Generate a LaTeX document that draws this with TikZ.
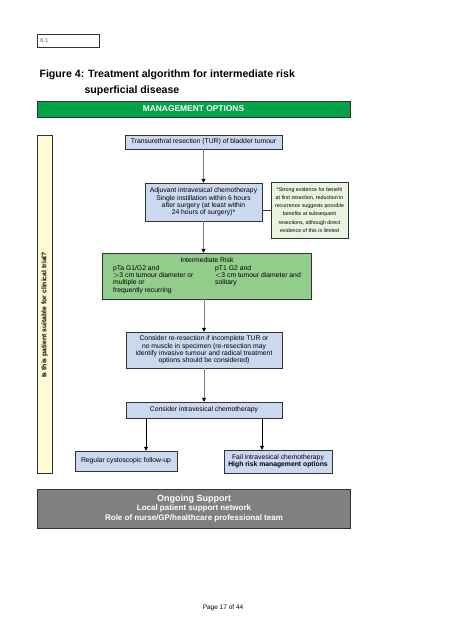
\documentclass[tikz,border=0pt]{standalone}
\usepackage{fontspec}
\setmainfont{Liberation Sans}
\usetikzlibrary{arrows.meta,positioning}

\definecolor{mgmtgreen}{RGB}{0,163,72}
\definecolor{riskgreen}{RGB}{146,205,140}
\definecolor{notegreen}{RGB}{234,243,224}
\definecolor{stepblue}{RGB}{203,217,240}
\definecolor{trialyellow}{RGB}{255,250,212}
\definecolor{supportgrey}{RGB}{128,128,128}
\definecolor{secgrey}{RGB}{110,100,150}

\begin{document}
\begin{tikzpicture}[x=1pt, y=-1pt,
    box/.style={draw=black!80, line width=0.5pt, inner sep=0pt, align=center,
        font=\fontsize{6.8}{7.4}\selectfont},
    stepbox/.style={box, fill=stepblue},
    arr/.style={draw=black!50, line width=0.7pt, -{Triangle[color=black, length=4pt, width=4pt]}},
    ]
\useasboundingbox[fill=white] (0, 0) rectangle (452, 640);

% header
\node[draw=black!80, line width=0.5pt, minimum height=13pt, inner xsep=3pt, inner ysep=0pt,
    text width=56pt, align=left, text=secgrey, font=\fontsize{6}{7}\selectfont] at (68, 40.5)(sec){6.1};
\node[anchor=west, align=left, font=\bfseries\fontsize{10.6}{16}\selectfont] at (36, 83)(title)
    {Figure 4: Treatment algorithm for intermediate risk\\\hspace{45pt}superficial disease};
\node[box, fill=mgmtgreen, minimum width=313pt, minimum height=16pt, text=white,
    font=\bfseries\fontsize{8.4}{10}\selectfont] at (193.5, 109)(mgmt){MANAGEMENT OPTIONS};

% clinical trial bar
\node[box, fill=trialyellow, rotate=90, minimum width=338pt, minimum height=15pt,
    font=\bfseries\fontsize{6.8}{7}\selectfont] at (44.5, 304)(trial)
    {Is this patient suitable for clinical trial?\hspace{22pt}};

% pathway
\node[stepbox, minimum width=157pt, minimum height=14pt] at (203.5, 142)(tur)
    {Transurethral resection (TUR) of bladder tumour};
\node[stepbox, minimum width=117pt, minimum height=38pt] at (203.5, 202)(adj)
    {Adjuvant intravesical chemotherapy\\Single instillation within 6 hours\\after surgery (at least within\\24 hours of surgery)*};
\node[box, fill=notegreen, minimum width=77pt, minimum height=56pt,
    font=\fontsize{5.3}{8.2}\selectfont] at (309.5, 210)(note)
    {*Strong evidence for benefit\\at first resection, reduction in\\recurrence suggests possible\\benefits at subsequent\\resections, although direct\\evidence of this is limited};
\node[box, fill=riskgreen, minimum width=209pt, minimum height=46pt] at (207, 276)(risk)
    {\begin{tabular}{@{}p{102pt}@{}l@{}}
     \multicolumn{2}{c}{Intermediate Risk}\\
     pTa G1/G2 and & pT1 G2 and\\
     $>$3 cm tumour diameter or & $<$3 cm tumour diameter and\\
     multiple or & solitary\\
     frequently recurring &
     \end{tabular}};
\node[stepbox, minimum width=156pt, minimum height=36pt] at (204, 350)(reres)
    {Consider re-resection if incomplete TUR or\\no muscle in specimen (re-resection may\\identify invasive tumour and radical treatment\\options should be considered)};
\node[stepbox, minimum width=156pt, minimum height=16pt] at (204, 410)(cons)
    {Consider intravesical chemotherapy};
\node[stepbox, minimum width=102pt, minimum height=20pt] at (126, 461)(regular)
    {Regular cystoscopic follow-up};
\node[stepbox, minimum width=108pt, minimum height=23pt] at (278, 461.5)(fail)
    {Fail intravesical chemotherapy\\\textbf{High risk management options}};
\coordinate (consl) at ([xshift=-58pt]cons.south);
\coordinate (consr) at ([xshift=58pt]cons.south);

% ongoing support
\node[box, fill=supportgrey, minimum width=313pt, minimum height=39pt, text=white,
    font=\bfseries\fontsize{8}{9.5}\selectfont] at (194, 508.5)(support)
    {{\fontsize{9}{9.5}\selectfont Ongoing Support}\\Local patient support network\\Role of nurse/GP/healthcare professional team};

\node[font=\fontsize{6.5}{8}\selectfont] at (223, 608)(page){Page 17 of 44};

% connectors
\draw[arr] (tur.south) -- (adj.north);
\draw[arr] (adj.south) -- (adj.south |- risk.north);
\draw[arr] (reres.north |- risk.south) -- (reres.north);
\draw[arr] (reres.south) -- (cons.north);
\draw[arr, draw=black] (consl) -- (consl |- regular.north);
\draw[arr, draw=black] (consr) -- (consr |- fail.north);
\draw[black!80, line width=0.6pt] (note.west -| adj.east) -- (note.west);
\end{tikzpicture}
\end{document}
